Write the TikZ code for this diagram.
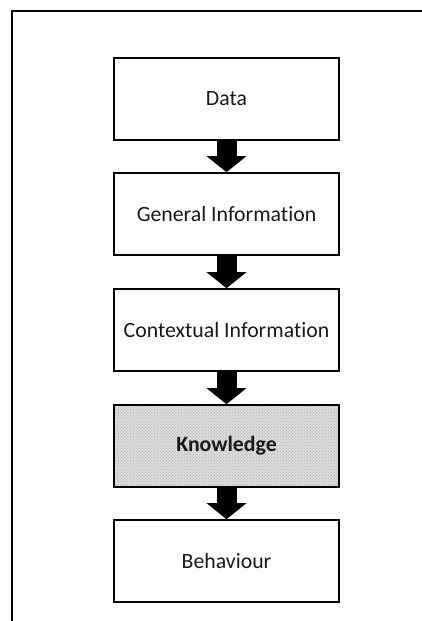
\documentclass[tikz,border=0pt]{standalone}
\usepackage{fontspec}
\setmainfont{Carlito}[Ligatures=NoCommon]
\usetikzlibrary{arrows.meta,patterns}
\begin{document}
\begin{tikzpicture}[x=1pt,y=1pt,
  stage/.style={draw=black, line width=1.6pt, minimum width=225pt, minimum height=82pt,
    inner sep=0pt, font=\fontsize{21.8}{26}\selectfont, text=black!90, fill=white},
  hilite/.style={preaction={fill=black!14}, pattern=crosshatch dots, pattern color=black!30, font=\fontsize{21.8}{26}\selectfont\bfseries},
  fatarrow/.style={line width=20pt, -{Triangle[width=39pt,length=16pt]}, draw=black}]
\useasboundingbox (0,0) rectangle (422,621);
\fill[white] (0,0) rectangle (422,621);
\coordinate (fbl) at (12,-2);
\coordinate (ftl) at (12,610);
\coordinate (ftr) at (424,610);
\draw[line width=2pt] (fbl) -- (ftl) -- (ftr);
\node[stage] (data) at (226.5,522) {Data};
\node[stage] (gen) at (226.5,407) {General Information};
\node[stage] (ctx) at (226.5,291) {Contextual Information};
\node[stage, hilite] (know) at (226.5,175) {Knowledge};
\node[stage] (beh) at (226.5,60) {Behaviour};
\draw[fatarrow] (data.south) -- (gen.north);
\draw[fatarrow] (gen.south) -- (ctx.north);
\draw[fatarrow] (ctx.south) -- (know.north);
\draw[fatarrow] (know.south) -- (beh.north);
\end{tikzpicture}
\end{document}
